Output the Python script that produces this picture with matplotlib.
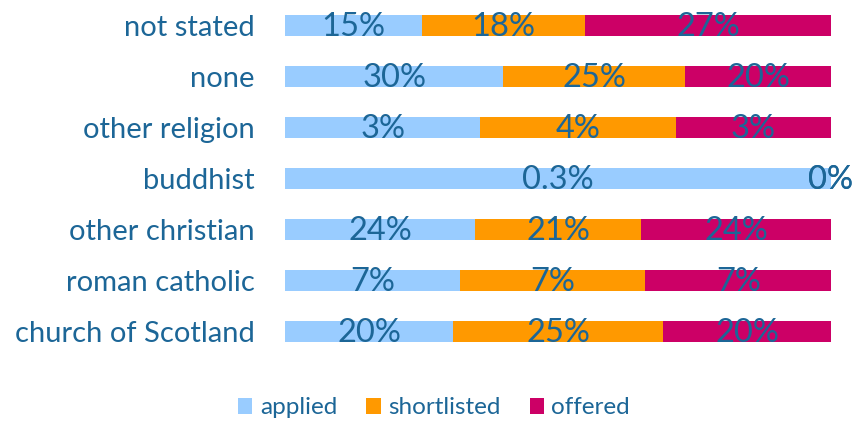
"""100% stacked bars of applied / shortlisted / offered by religion"""

import matplotlib.pyplot as plt
import numpy as np

categories = ["not stated", "none", "other religion", "buddhist",
              "other christian", "roman catholic", "church of Scotland"]
applied = [15, 30, 3.4, 0.3, 24, 6.6, 20]
shortlisted = [18, 25, 3.4, 0, 21, 7.0, 25]
offered = [27, 20, 2.7, 0, 24, 7.0, 20]
applied_labels = ["15%", "30%", "3%", "0.3%", "24%", "7%", "20%"]
shortlisted_labels = ["18%", "25%", "4%", "0%", "21%", "7%", "25%"]
offered_labels = ["27%", "20%", "3%", "0%", "24%", "7%", "20%"]

series = [
    ("applied", applied, applied_labels, "#99CCFF"),
    ("shortlisted", shortlisted, shortlisted_labels, "#FF9900"),
    ("offered", offered, offered_labels, "#CC0066"),
]

TEXT = "#1C6697"
plt.rcParams["font.family"] = ["Lato", "DejaVu Sans"]

fig = plt.figure(figsize=(8.56, 4.22), dpi=100)
ax = fig.add_axes([285 / 856, 1 - 357 / 422, 546 / 856, 357 / 422])

totals = np.array(applied) + np.array(shortlisted) + np.array(offered)
y = np.arange(len(categories))
left = np.zeros(len(categories))
for name, vals, labels, color in series:
    share = np.array(vals) / totals
    ax.barh(y, share, left=left, height=0.41, color=color, label=name)
    for i, (s, lab) in enumerate(zip(share, labels)):
        # zero segments sit at the right end of the bar
        xpos = left[i] + s / 2 if s > 0 else 1.0
        ax.text(xpos, y[i] + 0.03, lab, ha="center", va="center",
                fontsize=23.5, color=TEXT)
    left += share

ax.set_xlim(0, 1)
ax.set_ylim(len(categories) - 0.5, -0.5)
ax.set_yticks(y)
ax.set_yticklabels(categories, fontsize=21, color=TEXT)
ax.tick_params(axis="y", length=0, pad=22)
ax.set_xticks([])
for sp in ax.spines.values():
    sp.set_visible(False)

fig.legend(loc="center", bbox_to_anchor=(434 / 856, 1 - 408 / 422), ncol=3,
           frameon=False, fontsize=17.5, handlelength=0.6, handleheight=0.6,
           handletextpad=0.3, columnspacing=1.2, labelcolor=TEXT)

fig.savefig("out.png", dpi=100)
